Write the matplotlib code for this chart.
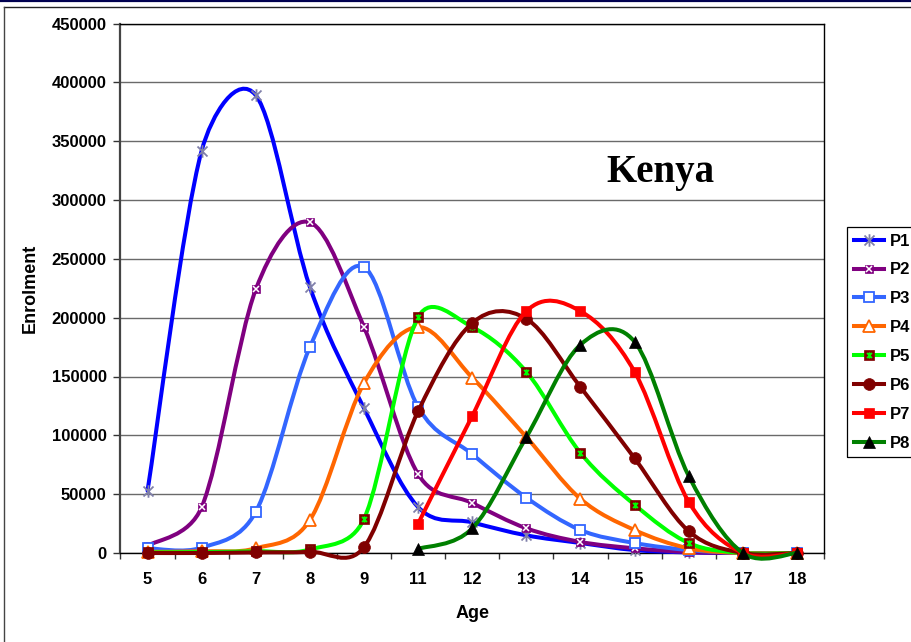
import numpy as np
import matplotlib
matplotlib.use('Agg')
import matplotlib.pyplot as plt
from matplotlib.path import Path
from matplotlib.patches import PathPatch, Rectangle
from matplotlib.lines import Line2D
from matplotlib.legend_handler import HandlerTuple

# ---------------- data ----------------
ages = ['5', '6', '7', '8', '9', '11', '12', '13', '14', '15', '16', '17', '18']
nan = np.nan
p1 = [53000, 342000, 389000, 226000, 123000, 39000, 26000, 15000, 8500, 2500, 500, 0, 0]
p2 = [6000, 39000, 224000, 281000, 192000, 67000, 42500, 21000, 9400, 4000, 800, 0, 0]
p3 = [4000, 4500, 35000, 175000, 243000, 124000, 84000, 47000, 19500, 8500, 2500, 0, 0]
p4 = [1000, 1500, 4000, 28000, 144500, 192000, 149000, 98500, 46000, 19500, 4000, 0, 0]
p5 = [500, 800, 1500, 3000, 29000, 200500, 192000, 154000, 85000, 41000, 8500, 0, 0]
p6 = [0, 0, 500, 1000, 5000, 120500, 195500, 199000, 141000, 80500, 18500, 0, 0]
p7 = [nan, nan, nan, nan, nan, 25000, 116500, 205500, 205500, 154000, 43500, 0, 0]
p8 = [nan, nan, nan, nan, nan, 3500, 21000, 98500, 177000, 179500, 65500, 0, 0]
series_names = ['P1', 'P2', 'P3', 'P4', 'P5', 'P6', 'P7', 'P8']
series_vals = [p1, p2, p3, p4, p5, p6, p7, p8]
yticks = list(range(0, 450001, 50000))

# ---------------- style ----------------
plt.rcParams['font.family'] = ['Liberation Sans', 'DejaVu Sans']
W, H = 912, 642
fig = plt.figure(figsize=(W / 100, H / 100), dpi=100)
L, R, T, B = 120.5, 824, 23.5, 553
ax = fig.add_axes([L / W, 1 - B / H, (R - L) / W, (B - T) / H])
YMAX = 450000
XPX = (R - L) / len(ages)       # pixels per category
YPX = (B - T) / YMAX            # pixels per unit

x = np.arange(len(ages))

# asterisk marker: X plus vertical bar
star = Path([(-1, -1), (1, 1), (-1, 1), (1, -1), (0, -1.25), (0, 1.25)],
            [Path.MOVETO, Path.LINETO, Path.MOVETO, Path.LINETO, Path.MOVETO, Path.LINETO])

line_colors = ['#0000FF', '#800080', '#3366FF', '#FF6600', '#00FF00', '#800000', '#FF0000', '#008000']
LW = 2.9

marker_specs = [
    [dict(marker=star, ms=9, mfc='none', mec='#8080AA', mew=1.3)],
    [dict(marker='s', ms=5.5, mfc='#800080', mec='#800080', mew=0.5),
     dict(marker='x', ms=4, mec='white', mew=1.1)],
    [dict(marker='s', ms=7.5, mfc='white', mec='#3366FF', mew=1.3)],
    [dict(marker='^', ms=9, mfc='white', mec='#FF6600', mew=1.3)],
    [dict(marker='s', ms=6.5, mfc='#800000', mec='#800000', mew=0.5),
     dict(marker=star, ms=4.5, mfc='none', mec='#00FF00', mew=1.2)],
    [dict(marker='o', ms=8.5, mfc='#800000', mec='#800000', mew=0.5)],
    [dict(marker='s', ms=6.5, mfc='#FF0000', mec='#FF0000', mew=0.5)],
    [dict(marker='^', ms=9, mfc='black', mec='black', mew=0.5)],
]


def smooth_path(xs, ys):
    """Excel-style smoothed Bezier through the points (distances judged in pixels)."""
    n = len(xs)
    px = np.asarray(xs) * XPX
    py = np.asarray(ys) * YPX

    def d(a, b):
        return np.hypot(px[a] - px[b], py[a] - py[b])

    verts = [(xs[0], ys[0])]
    codes = [Path.MOVETO]
    f0 = 1.0 / 6.0
    for i in range(n - 1):
        i0, i1, i2, i3 = max(i - 1, 0), i, i + 1, min(i + 2, n - 1)
        d12, d02, d13 = d(i1, i2), d(i0, i2), d(i1, i3)
        f1 = d12 / (2 * d02) if (d02 > 0 and d02 / 6 >= d12 / 2) else f0
        f2 = d12 / (2 * d13) if (d13 > 0 and d13 / 6 >= d12 / 2) else f0
        c1 = (xs[i1] + (xs[i2] - xs[i0]) * f1, ys[i1] + (ys[i2] - ys[i0]) * f1)
        c2 = (xs[i2] - (xs[i3] - xs[i1]) * f2, ys[i2] - (ys[i3] - ys[i1]) * f2)
        verts += [c1, c2, (xs[i2], ys[i2])]
        codes += [Path.CURVE4] * 3
    return Path(verts, codes)


handles = []
for k, (name, vals) in enumerate(zip(series_names, series_vals)):
    v = np.array(vals, dtype=float)
    ok = ~np.isnan(v)
    xs, ys = x[ok].astype(float), v[ok]
    patch = PathPatch(smooth_path(xs, ys), facecolor='none', edgecolor=line_colors[k],
                      lw=LW, zorder=3 + k, clip_on=False, capstyle='round', joinstyle='round')
    ax.add_patch(patch)
    for spec in marker_specs[k]:
        ax.plot(xs, ys, linestyle='none', zorder=3.5 + k, clip_on=False, **spec)
    hl = [Line2D([], [], color=line_colors[k], lw=LW)]
    for spec in marker_specs[k]:
        hl.append(Line2D([], [], linestyle='none', **spec))
    handles.append(tuple(hl))

# ---------------- axes ----------------
ax.set_xlim(-0.5, len(ages) - 0.5)
ax.set_ylim(0, YMAX)
ax.set_xticks(x)
ax.set_xticklabels(ages, fontsize=12, fontweight='bold')
ax.set_xticks(np.arange(-0.5, len(ages), 1.0), minor=True)
ax.tick_params(axis='x', which='major', length=0, pad=14)
ax.tick_params(axis='x', which='minor', length=4.5, width=1, direction='out', color='#333333')
ax.set_yticks(yticks)
ax.set_yticklabels([str(v) for v in yticks], fontsize=12, fontweight='bold')
ax.tick_params(axis='y', length=5, width=1, direction='out', color='#333333', pad=5)
ax.yaxis.grid(True, color='#6a6a6a', lw=1.0)
ax.set_axisbelow(True)
for s in ['top', 'right', 'bottom']:
    ax.spines[s].set_color('black')
    ax.spines[s].set_linewidth(1.0)
ax.spines['left'].set_color('#444444')
ax.spines['left'].set_linewidth(1.6)

ax.set_ylabel('Enrolment', fontsize=13, fontweight='bold', va='center')
ax.yaxis.set_label_coords((30 - L) / (R - L), 0.5)
ax.set_xlabel('Age', fontsize=13, fontweight='bold', va='center')
ax.xaxis.set_label_coords((473 - L) / (R - L), (B - 614) / (B - T))

fig.text(660 / W, 1 - 182 / H, 'Kenya', ha='center', va='baseline', fontsize=28,
         fontweight='bold', family=['Liberation Serif', 'DejaVu Serif'])

leg = fig.legend(handles, series_names, loc='upper left',
                 bbox_to_anchor=(847 / W, 1 - 227 / H), bbox_transform=fig.transFigure,
                 borderaxespad=0, frameon=False,
                 prop=dict(size=12, weight='bold'), handlelength=1.8, handletextpad=0.35,
                 labelspacing=0.83, borderpad=0.4, numpoints=1,
                 handler_map={tuple: HandlerTuple(ndivide=1, pad=0)})
# legend box (runs past the right edge of the picture, as in the original)
fig.add_artist(Rectangle((847 / W, 1 - 457 / H), 90 / W, 230 / H, transform=fig.transFigure,
                         fill=False, ec='black', lw=0.9))

# outer frame decorations
fig.add_artist(Line2D([0, 1], [1 - 0.8 / H] * 2, transform=fig.transFigure, color='#000050', lw=1.6))
fig.add_artist(Line2D([4.5 / W, 1], [1 - 6.5 / H] * 2, transform=fig.transFigure, color='#222222', lw=1.0))
fig.add_artist(Line2D([4.5 / W, 4.5 / W], [0, 1 - 6.5 / H], transform=fig.transFigure, color='#444444', lw=1.0))

fig.savefig('out.png', dpi=100)
